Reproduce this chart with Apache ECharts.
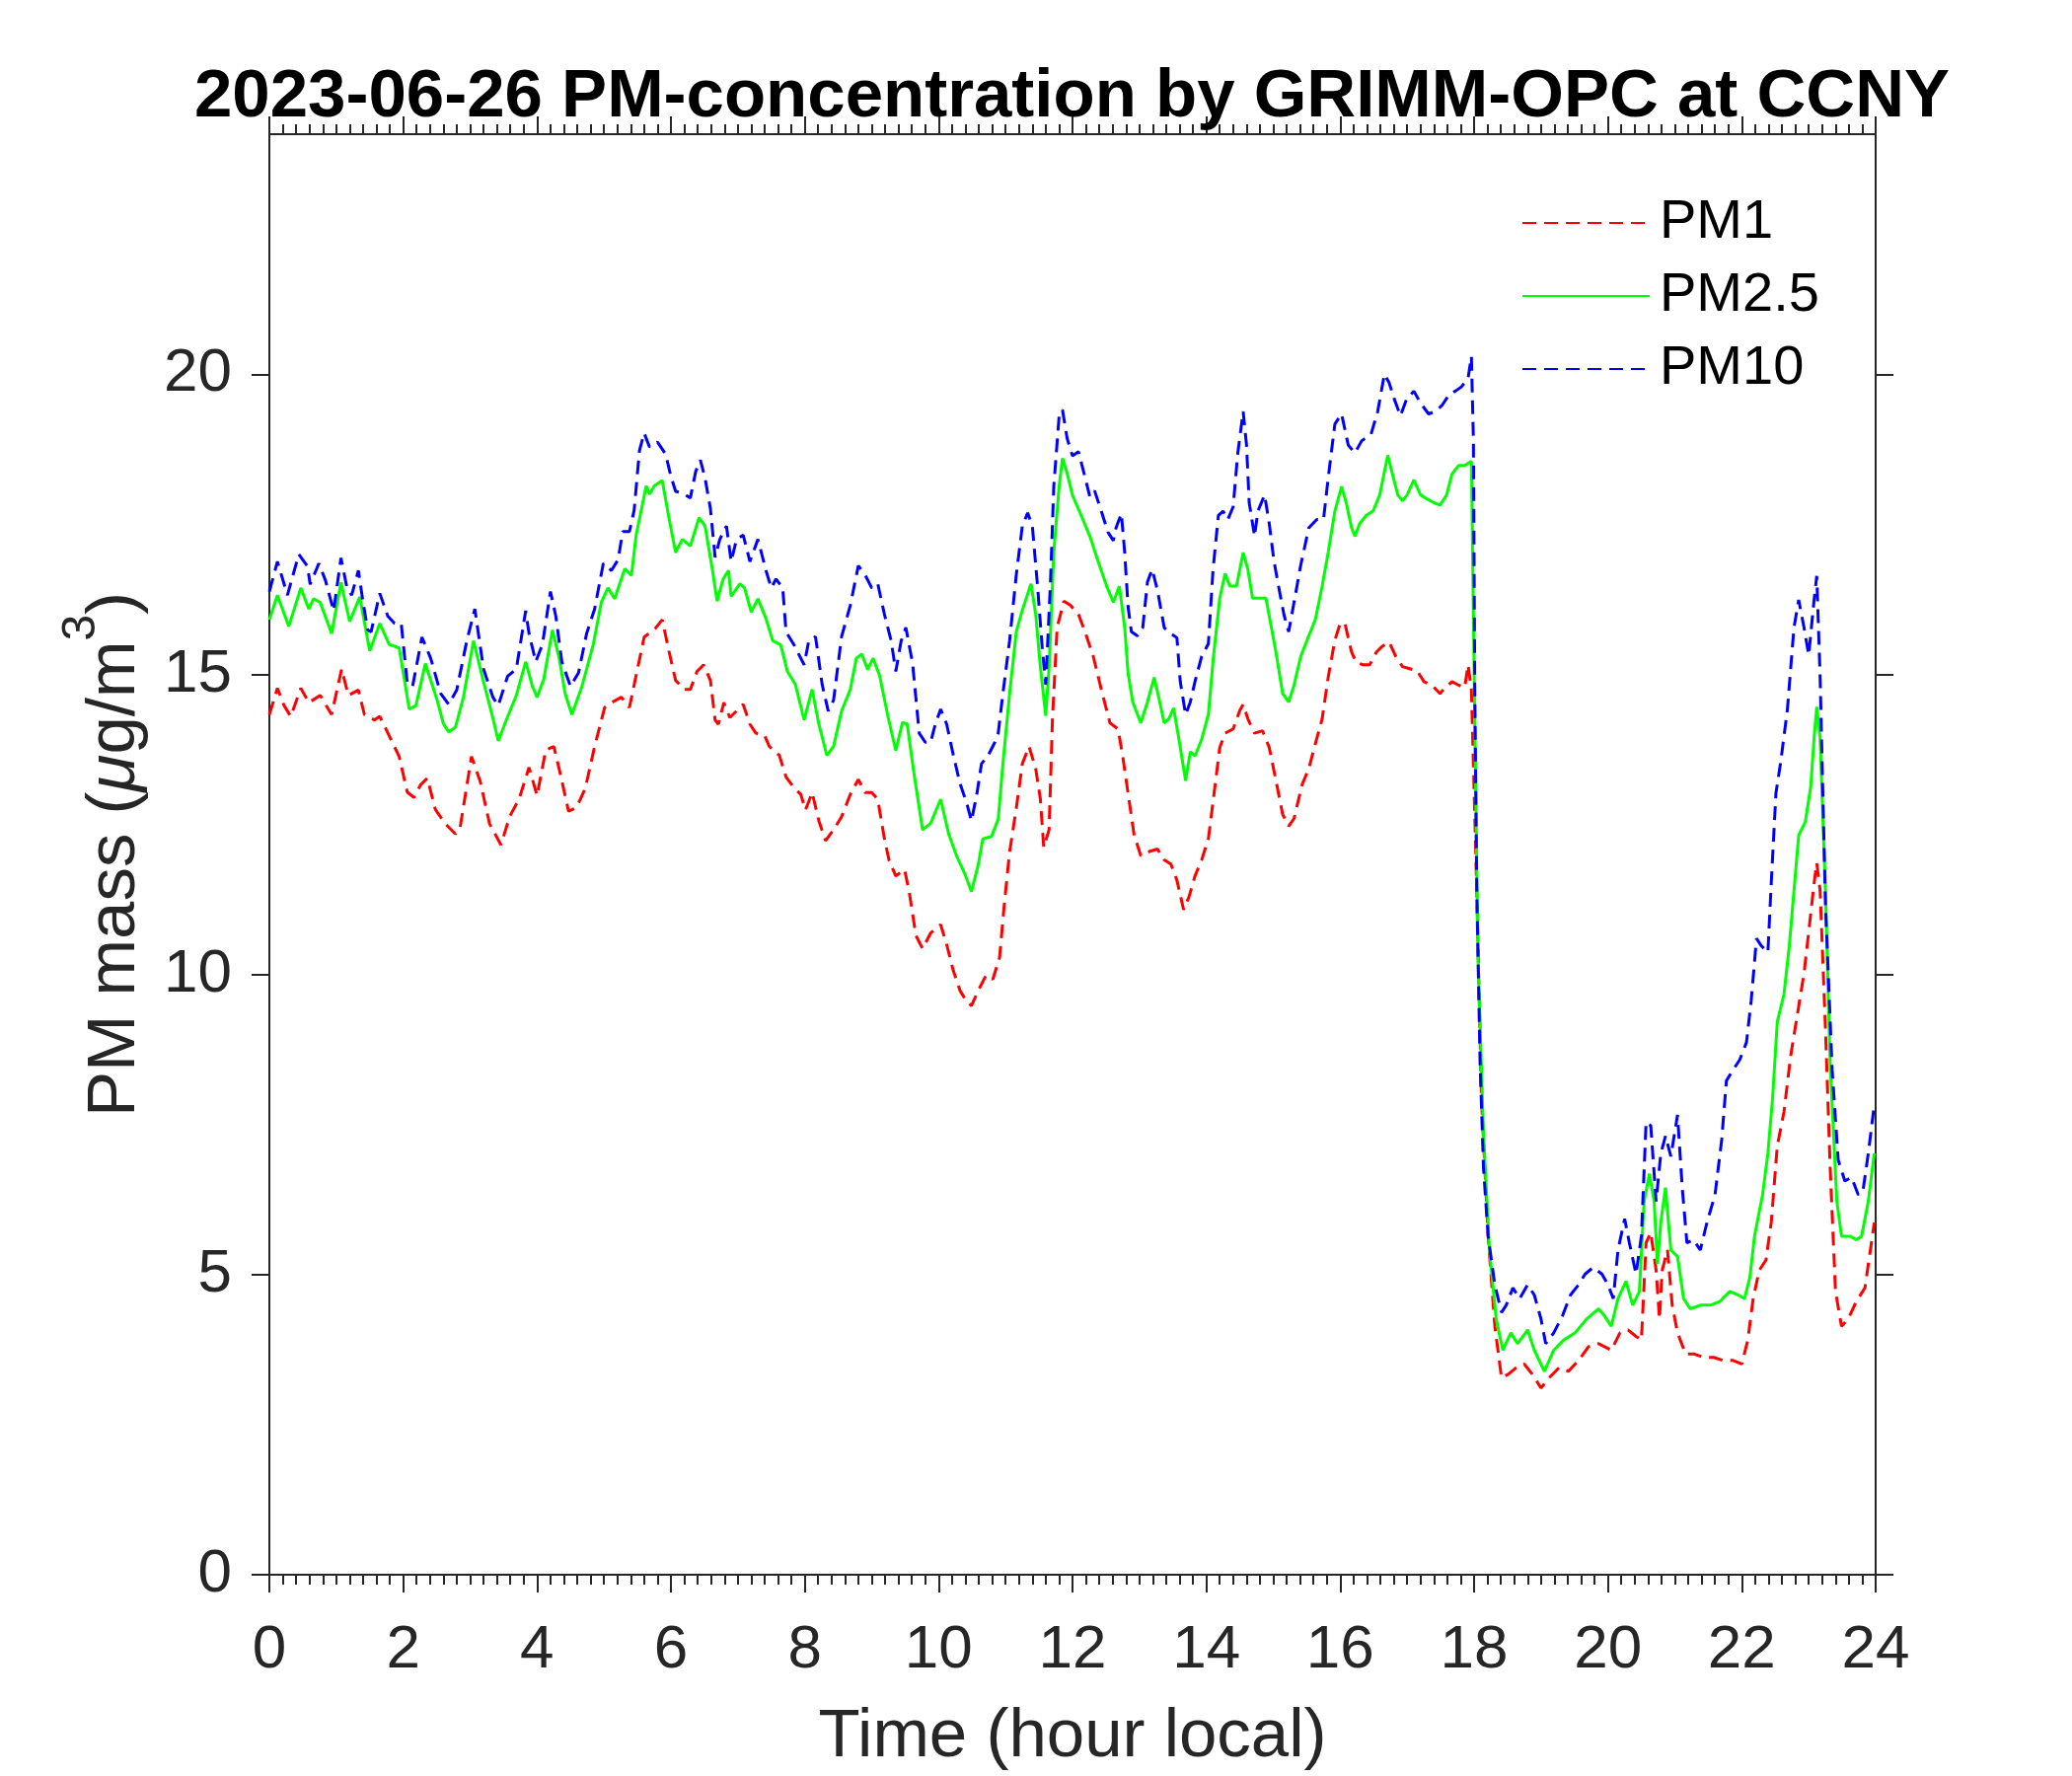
<!DOCTYPE html>
<html>
<head>
<meta charset="utf-8">
<script src="https://cdn.jsdelivr.net/npm/echarts@6/dist/echarts.min.js"></script>
<style>
html,body{margin:0;padding:0;background:#fff;}
#chart{width:2100px;height:1800px;}
</style>
</head>
<body>
<div id="chart"></div>
<script>
// ---- data (hours local, PM mass in ug/m3) ----
const pm1Hours = [0,0.12,0.22,0.32,0.47,0.59,0.76,0.93,1.08,1.18,1.33,1.42,1.57,1.65,1.79,1.94,2.06,2.16,2.26,2.36,2.48,2.63,2.78,2.85,3.02,3.15,3.29,3.46,3.59,3.73,3.88,4.0,4.13,4.25,4.35,4.47,4.59,4.72,4.86,5.01,5.11,5.26,5.38,5.5,5.6,5.77,5.87,5.97,6.07,6.2,6.29,6.39,6.49,6.59,6.66,6.71,6.79,6.88,6.98,7.08,7.18,7.27,7.4,7.47,7.62,7.72,7.84,7.94,8.01,8.11,8.21,8.31,8.43,8.55,8.68,8.8,8.9,9.0,9.09,9.19,9.26,9.36,9.49,9.56,9.66,9.76,9.88,10.03,10.12,10.22,10.32,10.42,10.49,10.59,10.71,10.81,10.91,10.98,11.06,11.16,11.25,11.35,11.45,11.52,11.57,11.65,11.7,11.77,11.87,11.97,12.09,12.19,12.31,12.43,12.56,12.68,12.75,12.83,12.92,13.02,13.15,13.27,13.37,13.47,13.56,13.66,13.74,13.83,13.93,14.03,14.1,14.2,14.28,14.4,14.5,14.55,14.62,14.72,14.84,14.94,15.04,15.14,15.23,15.31,15.43,15.53,15.63,15.73,15.82,15.92,16.0,16.07,16.17,16.24,16.34,16.44,16.54,16.63,16.73,16.83,16.93,17.05,17.15,17.25,17.37,17.49,17.57,17.67,17.77,17.86,17.91,17.96,18.04,18.11,18.21,18.31,18.41,18.51,18.63,18.75,18.87,19.0,19.12,19.27,19.41,19.56,19.71,19.86,19.95,20.05,20.18,20.3,20.42,20.5,20.57,20.64,20.72,20.77,20.81,20.89,20.96,21.04,21.16,21.28,21.43,21.58,21.72,21.87,22.0,22.09,22.17,22.26,22.36,22.44,22.53,22.63,22.73,22.83,22.93,23.0,23.08,23.12,23.17,23.25,23.32,23.4,23.49,23.59,23.71,23.84,23.98];
const pm1Values = [14.33,14.77,14.48,14.3,14.77,14.53,14.65,14.33,15.09,14.65,14.74,14.33,14.24,14.3,13.98,13.63,13.04,12.95,13.16,13.27,12.75,12.51,12.34,12.45,13.63,13.22,12.51,12.16,12.63,12.92,13.45,12.98,13.74,13.8,13.33,12.72,12.78,13.1,13.8,14.45,14.53,14.62,14.45,15.09,15.62,15.77,15.91,15.39,14.9,14.75,14.75,15.05,15.16,14.9,14.24,14.17,14.53,14.28,14.39,14.5,14.17,14.02,13.98,13.8,13.65,13.29,13.11,13.0,12.74,13.03,12.56,12.23,12.41,12.63,13.0,13.25,13.03,13.03,12.92,12.26,11.9,11.64,11.75,11.38,10.65,10.43,10.69,10.83,10.5,10.06,9.73,9.55,9.48,9.73,9.99,9.92,10.28,11.16,12.04,12.77,13.51,13.8,13.43,12.92,12.12,12.41,14.24,15.78,16.22,16.15,16.0,15.7,15.3,14.75,14.19,14.09,13.64,13.02,12.33,11.98,12.05,12.09,11.91,11.84,11.57,11.08,11.29,11.64,11.91,12.26,12.88,13.78,14.02,14.09,14.4,14.5,14.26,14.02,14.06,13.78,13.23,12.67,12.47,12.6,13.16,13.43,13.85,14.26,14.95,15.57,15.85,15.85,15.37,15.2,15.16,15.16,15.37,15.47,15.54,15.3,15.13,15.09,15.06,14.88,14.82,14.68,14.78,14.88,14.82,14.78,15.16,14.75,11.4,7.94,5.64,4.14,3.28,3.34,3.45,3.51,3.34,3.11,3.28,3.45,3.39,3.57,3.8,3.85,3.8,3.74,4.03,4.08,3.97,3.91,5.53,5.7,5.07,4.26,5.07,5.41,4.49,4.03,3.68,3.68,3.62,3.62,3.57,3.57,3.51,3.91,4.6,5.07,5.24,5.87,7.14,7.71,8.64,9.33,10.02,10.71,11.52,11.86,11.4,9.1,6.79,4.72,4.14,4.26,4.55,4.78,5.87];

const pm25Hours = [0,0.12,0.29,0.47,0.59,0.66,0.76,0.93,1.07,1.2,1.35,1.5,1.65,1.79,1.94,2.09,2.19,2.33,2.51,2.6,2.68,2.78,2.9,3.05,3.19,3.34,3.42,3.54,3.69,3.83,3.93,4.0,4.1,4.23,4.33,4.42,4.52,4.67,4.84,4.96,5.06,5.16,5.31,5.41,5.48,5.55,5.63,5.68,5.75,5.87,5.97,6.07,6.17,6.29,6.42,6.51,6.61,6.69,6.78,6.86,6.9,7.03,7.1,7.2,7.3,7.42,7.52,7.64,7.74,7.86,7.99,8.11,8.21,8.33,8.43,8.55,8.68,8.77,8.85,8.94,9.02,9.12,9.24,9.36,9.46,9.53,9.63,9.76,9.88,10.03,10.15,10.27,10.39,10.49,10.59,10.66,10.79,10.89,10.96,11.06,11.16,11.25,11.38,11.45,11.52,11.6,11.65,11.72,11.8,11.85,11.92,12.0,12.11,12.26,12.38,12.51,12.61,12.7,12.78,12.83,12.9,13.02,13.12,13.22,13.29,13.37,13.44,13.51,13.59,13.69,13.76,13.83,13.93,14.03,14.1,14.2,14.28,14.35,14.45,14.55,14.62,14.69,14.79,14.89,14.96,15.04,15.14,15.23,15.31,15.41,15.53,15.63,15.73,15.82,15.92,16.02,16.09,16.17,16.22,16.29,16.39,16.49,16.59,16.71,16.78,16.86,16.93,17.0,17.1,17.2,17.3,17.4,17.49,17.59,17.67,17.77,17.86,17.96,18.01,18.06,18.14,18.23,18.33,18.43,18.55,18.65,18.8,18.9,19.05,19.19,19.34,19.51,19.68,19.86,19.95,20.05,20.15,20.27,20.37,20.47,20.54,20.62,20.69,20.74,20.79,20.86,20.94,21.04,21.13,21.23,21.38,21.53,21.67,21.82,21.95,22.04,22.12,22.19,22.31,22.39,22.46,22.53,22.63,22.71,22.78,22.85,22.95,23.03,23.08,23.12,23.17,23.25,23.32,23.42,23.49,23.62,23.71,23.79,23.89,23.98];
const pm25Values = [15.91,16.32,15.8,16.44,16.09,16.26,16.2,15.68,16.53,15.88,16.29,15.39,15.85,15.5,15.44,14.42,14.48,15.18,14.56,14.18,14.04,14.12,14.62,15.56,14.92,14.27,13.89,14.24,14.65,15.21,14.8,14.62,14.92,15.74,15.27,14.68,14.33,14.8,15.5,16.2,16.44,16.26,16.76,16.65,17.32,17.7,18.14,18.0,18.14,18.23,17.61,17.03,17.25,17.14,17.61,17.47,16.81,16.22,16.59,16.73,16.3,16.51,16.44,16.04,16.26,15.93,15.56,15.49,15.05,14.83,14.24,14.75,14.17,13.65,13.8,14.39,14.75,15.27,15.34,15.08,15.27,14.97,14.31,13.73,14.2,14.17,13.36,12.41,12.52,12.92,12.34,11.97,11.68,11.38,11.82,12.26,12.3,12.59,13.51,14.68,15.71,16.07,16.51,16.0,15.12,14.31,15.12,17.03,18.13,18.6,18.35,17.98,17.7,17.3,16.89,16.47,16.2,16.47,15.78,15.02,14.54,14.19,14.54,14.95,14.61,14.19,14.26,14.44,13.92,13.23,13.71,13.64,13.92,14.33,15.23,16.27,16.68,16.47,16.47,17.03,16.75,16.27,16.27,16.27,15.85,15.37,14.68,14.54,14.82,15.3,15.64,15.92,16.47,17.03,17.72,18.13,17.86,17.44,17.3,17.51,17.65,17.72,17.99,18.65,18.34,17.99,17.89,17.99,18.24,17.99,17.92,17.86,17.82,17.99,18.34,18.48,18.48,18.55,14.28,10.25,7.37,5.41,4.26,3.74,4.03,3.85,4.08,3.74,3.39,3.74,3.91,4.03,4.26,4.43,4.31,4.14,4.6,4.89,4.49,4.72,6.22,6.68,6.22,5.18,5.87,6.45,5.41,5.3,4.6,4.43,4.49,4.49,4.55,4.72,4.66,4.6,4.95,5.64,6.33,7.02,7.94,9.21,9.67,10.48,11.4,12.32,12.55,13.13,13.94,14.46,13.94,11.4,8.52,6.22,5.64,5.64,5.58,5.64,6.22,7.02];

const pm10Hours = [0,0.12,0.27,0.44,0.57,0.61,0.74,0.84,0.96,1.07,1.16,1.23,1.33,1.4,1.47,1.52,1.65,1.77,1.87,1.97,2.06,2.14,2.28,2.41,2.56,2.68,2.8,2.95,3.07,3.2,3.34,3.42,3.56,3.69,3.83,3.88,3.98,4.08,4.2,4.28,4.37,4.5,4.62,4.74,4.86,4.99,5.11,5.21,5.28,5.38,5.45,5.53,5.6,5.68,5.8,5.92,6.0,6.07,6.17,6.29,6.37,6.44,6.51,6.59,6.66,6.73,6.83,6.9,6.98,7.08,7.18,7.3,7.42,7.5,7.57,7.67,7.72,7.84,7.94,7.99,8.06,8.16,8.26,8.35,8.43,8.55,8.68,8.8,8.9,9.0,9.09,9.19,9.29,9.36,9.44,9.51,9.61,9.71,9.8,9.88,9.95,10.03,10.12,10.22,10.32,10.42,10.49,10.57,10.64,10.74,10.84,10.89,10.96,11.06,11.16,11.25,11.33,11.4,11.48,11.55,11.6,11.67,11.72,11.8,11.85,11.92,12.0,12.09,12.19,12.26,12.33,12.43,12.53,12.61,12.65,12.73,12.78,12.83,12.88,12.97,13.05,13.12,13.19,13.27,13.37,13.47,13.56,13.61,13.69,13.76,13.83,13.93,14.03,14.1,14.18,14.25,14.32,14.4,14.47,14.55,14.6,14.64,14.72,14.77,14.87,14.94,15.01,15.09,15.16,15.23,15.31,15.41,15.53,15.65,15.75,15.82,15.92,16.02,16.12,16.22,16.32,16.46,16.56,16.66,16.73,16.81,16.9,16.99,17.1,17.2,17.32,17.42,17.52,17.62,17.72,17.81,17.91,17.96,17.99,18.01,18.04,18.09,18.14,18.21,18.31,18.41,18.48,18.58,18.68,18.8,18.9,19.0,19.07,19.19,19.32,19.44,19.56,19.66,19.78,19.91,20.0,20.08,20.15,20.25,20.32,20.42,20.5,20.57,20.64,20.72,20.79,20.86,20.94,21.04,21.11,21.18,21.28,21.38,21.48,21.6,21.7,21.77,21.87,21.97,22.07,22.14,22.22,22.29,22.39,22.44,22.51,22.58,22.68,22.78,22.85,22.93,23.0,23.08,23.12,23.17,23.25,23.35,23.44,23.54,23.64,23.74,23.81,23.89,23.98];
const pm10Values = [16.38,16.88,16.32,17.0,16.8,16.5,16.85,16.56,16.06,16.94,16.44,16.32,16.73,16.2,15.74,15.71,16.35,15.97,15.85,15.85,14.86,14.8,15.62,15.27,14.68,14.5,14.74,15.56,16.09,15.09,14.62,14.48,14.97,15.09,16.06,15.68,15.21,15.5,16.38,15.97,15.21,14.8,15.03,15.68,16.09,16.85,16.73,16.91,17.38,17.38,17.73,18.73,19.02,18.79,18.87,18.67,18.3,18.05,18.02,17.94,18.38,18.57,18.27,17.76,16.95,17.25,17.47,16.88,17.25,17.32,16.88,17.25,16.73,16.44,16.59,16.44,15.71,15.49,15.27,15.16,15.56,15.63,14.83,14.39,14.57,15.63,16.15,16.81,16.66,16.44,16.51,16.0,15.56,15.05,15.56,15.78,15.19,14.02,13.87,13.87,14.17,14.42,14.17,13.65,13.18,12.85,12.56,13.0,13.51,13.65,13.87,14.02,14.68,15.56,16.66,17.47,17.69,17.47,16.44,15.41,14.83,16.51,18.13,19.3,19.41,18.93,18.64,18.71,18.27,17.96,18.06,17.72,17.37,17.23,17.44,17.68,17.03,16.13,15.71,15.64,15.78,16.54,16.75,16.4,15.78,15.68,15.61,14.88,14.33,14.54,14.88,15.3,15.51,16.75,17.65,17.72,17.58,17.79,18.69,19.38,18.82,17.86,17.3,17.72,17.99,17.51,16.89,16.4,15.99,15.71,16.2,16.82,17.44,17.58,17.58,18.27,19.17,19.34,18.82,18.69,18.89,19.0,19.38,20.0,19.86,19.58,19.31,19.58,19.72,19.52,19.34,19.38,19.48,19.65,19.72,19.79,19.93,20.3,18.9,14.86,11.4,8.52,6.79,5.64,4.83,4.37,4.49,4.78,4.6,4.83,4.66,4.26,3.85,4.03,4.31,4.66,4.83,5.01,5.12,5.01,4.83,4.6,5.41,5.93,5.53,5.01,5.64,7.54,7.48,6.22,7.02,7.31,6.97,7.66,6.45,5.53,5.58,5.41,5.87,6.33,7.25,8.23,8.41,8.58,8.87,9.56,10.6,10.48,10.37,11.52,13.02,13.53,14.4,15.78,16.24,15.78,15.32,16.24,16.64,14.97,11.17,8.41,6.91,6.56,6.62,6.33,6.39,7.02,7.83];

const seriesNames = ['PM1', 'PM2.5', 'PM10'];
const yTickValues = [0, 5, 10, 15, 20];
const titleText = '2023-06-26 PM-concentration by GRIMM-OPC at CCNY';
const xAxisTitle = 'Time (hour local)';

// ---- chart ----
const chart = echarts.init(document.getElementById('chart'), null, {renderer: 'canvas'});
const FONT = 'Liberation Sans, Arial, Helvetica, sans-serif';
const AX = '#262626';
const pairs = (hs, vs) => hs.map((h, i) => [h, vs[i]]);

const axisLineStyle = {show: true, onZero: false, lineStyle: {color: AX, width: 2}};

const option = {
  animation: false,
  backgroundColor: '#ffffff',
  title: {
    text: titleText,
    left: 192,
    top: 59,
    textStyle: {fontFamily: FONT, fontWeight: 'bold', fontSize: 69, color: '#000'}
  },
  legend: {
    data: seriesNames,
    orient: 'vertical',
    left: 1537,
    top: 191,
    itemWidth: 129,
    itemHeight: 14,
    itemGap: 14,
    selectedMode: false,
    itemStyle: {opacity: 0, borderWidth: 0},
    textStyle: {fontFamily: FONT, fontSize: 56, color: '#000', lineHeight: 60, padding: [0, 0, 0, 5]}
  },
  grid: {left: 273, right: 199, top: 136, bottom: 204, containLabel: false, outerBoundsMode: 'none'},
  xAxis: [
    {
      type: 'value', position: 'bottom', min: 0, max: 24, interval: 2,
      axisLine: axisLineStyle,
      axisTick: {show: true, inside: false, length: 18, lineStyle: {color: AX, width: 2}},
      minorTick: {show: true, splitNumber: 10, length: 10, lineStyle: {color: AX, width: 2}},
      splitLine: {show: false},
      axisLabel: {show: true, margin: 46, fontFamily: FONT, fontSize: 62, color: AX},
      name: xAxisTitle, nameLocation: 'middle', nameGap: 130,
      nameTextStyle: {fontFamily: FONT, fontSize: 69, color: AX}
    },
    {
      type: 'value', position: 'top', min: 0, max: 24, interval: 2,
      axisLine: axisLineStyle,
      axisTick: {show: true, inside: false, length: 18, lineStyle: {color: AX, width: 2}},
      minorTick: {show: true, splitNumber: 10, length: 10, lineStyle: {color: AX, width: 2}},
      splitLine: {show: false},
      axisLabel: {show: false}
    }
  ],
  yAxis: [
    {
      type: 'value', position: 'left', min: 0, max: 24, interval: 5,
      axisLine: axisLineStyle,
      axisTick: {show: true, inside: false, length: 18, customValues: yTickValues, lineStyle: {color: AX, width: 2}},
      splitLine: {show: false},
      axisLabel: {show: true, margin: 38, customValues: yTickValues, fontFamily: FONT, fontSize: 62, color: AX},
      name: '{n|PM mass (}{mu|μ}{n|g/m}{sup|3}{n|)}',
      nameLocation: 'middle', nameGap: 122, nameRotate: 90,
      nameTextStyle: {
        fontFamily: FONT, fontSize: 69, color: AX,
        rich: {
          n: {fontFamily: FONT, fontSize: 69, color: AX, lineHeight: 92, verticalAlign: 'bottom'},
          mu: {fontFamily: FONT, fontSize: 69, fontStyle: 'italic', color: AX, lineHeight: 92, verticalAlign: 'bottom'},
          sup: {fontFamily: FONT, fontSize: 48, color: AX, verticalAlign: 'top', lineHeight: 50}
        }
      }
    },
    {
      type: 'value', position: 'right', min: 0, max: 24, interval: 5,
      axisLine: axisLineStyle,
      axisTick: {show: true, inside: false, length: 18, customValues: yTickValues, lineStyle: {color: AX, width: 2}},
      splitLine: {show: false},
      axisLabel: {show: false}
    }
  ],
  series: [
    {
      name: 'PM1', type: 'line', xAxisIndex: 0, yAxisIndex: 0,
      data: pairs(pm1Hours, pm1Values), showSymbol: false, symbol: 'none',
      lineStyle: {color: '#ff0000', width: 3, type: [14, 8]}, itemStyle: {color: '#ff0000'}
    },
    {
      name: 'PM2.5', type: 'line', xAxisIndex: 0, yAxisIndex: 0,
      data: pairs(pm25Hours, pm25Values), showSymbol: false, symbol: 'none',
      lineStyle: {color: '#00ff00', width: 3, type: 'solid'}, itemStyle: {color: '#00ff00'}
    },
    {
      name: 'PM10', type: 'line', xAxisIndex: 0, yAxisIndex: 0,
      data: pairs(pm10Hours, pm10Values), showSymbol: false, symbol: 'none',
      lineStyle: {color: '#0000ff', width: 3, type: [14, 8]}, itemStyle: {color: '#0000ff'}
    }
  ]
};
chart.setOption(option);
</script>
</body>
</html>
